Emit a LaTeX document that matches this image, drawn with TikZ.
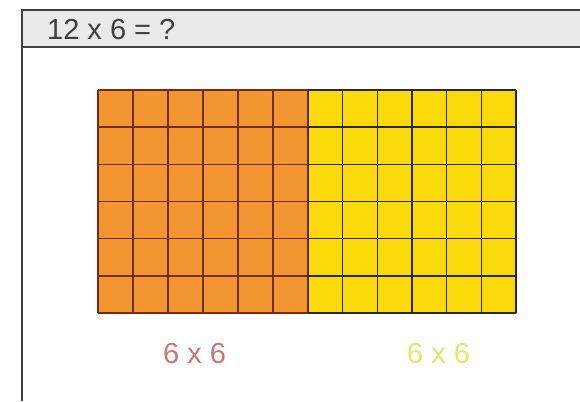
\documentclass[tikz,border=0pt]{standalone}
\usepackage{fontspec}
\setmainfont{Liberation Sans}
\usepackage{xcolor}
\usetikzlibrary{positioning}

\definecolor{headgray}{RGB}{236,233,236}
\definecolor{cellorange}{RGB}{242,150,50}
\definecolor{celldarkorange}{RGB}{120,42,22}
\definecolor{cellyellow}{RGB}{250,218,10}
\definecolor{celldarkyellow}{RGB}{40,40,32}
\definecolor{labelred}{RGB}{205,115,115}
\definecolor{labelyellow}{RGB}{228,230,105}

\begin{document}
\begin{tikzpicture}[x=1pt, y=-1pt,
    bigtext/.style={font=\fontsize{29}{34}\selectfont, inner sep=0pt, anchor=base west},
    gridline/.style={line width=1.5pt}]
    \useasboundingbox (0,0) rectangle (580,401);

    % Header band
    \fill[headgray] (22,10) rectangle (580,47);
    \draw[line width=1.3pt, black!75] (580,10) -- (22,10) -- (22,401);
    \draw[line width=1.3pt, black!75] (22,47) -- (580,47);
    \node[bigtext, text=black!75] (title) at (47,40) {12 x 6 = ?};

    % Orange half (6 x 6)
    \fill[cellorange] (98,90) rectangle (308,313);
    \foreach \i in {0,...,6}
        \draw[gridline, celldarkorange] (98+35*\i,90) -- (98+35*\i,313);
    \foreach \j in {0,...,6}
        \draw[gridline, celldarkorange] (98,90+37.17*\j) -- (308,90+37.17*\j);

    % Yellow half (6 x 6)
    \fill[cellyellow] (308,90) rectangle (516,313);
    \foreach \i in {1,...,6}
        \draw[gridline, celldarkyellow] (308+34.67*\i,90) -- (308+34.67*\i,313);
    \foreach \j in {0,...,6}
        \draw[gridline, celldarkyellow] (308,90+37.17*\j) -- (516,90+37.17*\j);
    \draw[gridline, celldarkorange!60!celldarkyellow] (308,90) -- (308,313);

    % Labels
    \node[bigtext, text=labelred] (leftlabel) at (163,363) {6 x 6};
    \node[bigtext, text=labelyellow] (rightlabel) at (407,363) {6 x 6};
\end{tikzpicture}
\end{document}
